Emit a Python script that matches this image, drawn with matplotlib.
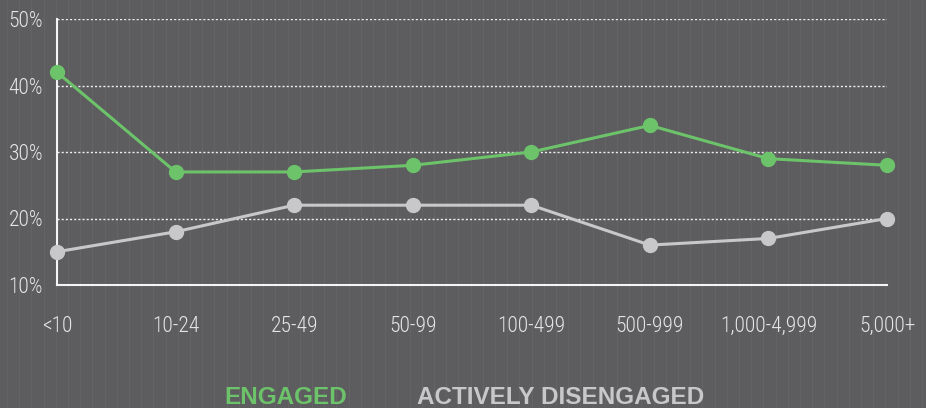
import numpy as np
from matplotlib import pyplot as plt
from matplotlib import font_manager

categories = ["<10", "10-24", "25-49", "50-99", "100-499", "500-999", "1,000-4,999", "5,000+"]
engaged = [42, 27, 27, 28, 30, 34, 29, 28]
disengaged = [15, 18, 22, 22, 22, 16, 17, 20]
y_ticks = [10, 20, 30, 40, 50]

BG = "#5d5d5f"
GREEN = "#6cc36a"
GREY = "#c8c8ca"
TEXT = "#e6e6e6"

# pick a narrow face if one is around
names = {f.name for f in font_manager.fontManager.ttflist}
narrow = [n for n in ["Roboto Condensed", "Liberation Sans Narrow", "Open Sans Condensed",
                      "DejaVu Sans Condensed"] if n in names]

fig = plt.figure(figsize=(9.26, 4.08), dpi=100, facecolor=BG)

# faint vertical texture stripes in the background
bg = fig.add_axes([0, 0, 1, 1], zorder=-1)
bg.set_xlim(0, 926)
bg.set_ylim(0, 408)
bg.axis("off")
for x in np.arange(7, 926, 12.2):
    bg.axvline(x, color="#6a6a6c", lw=0.8, alpha=0.6)

ax = fig.add_axes([57 / 926, 123 / 408, 830 / 926, 266 / 408])
ax.patch.set_alpha(0)
x = np.arange(len(categories))

for y in y_ticks[1:]:
    ax.axhline(y, color="#f0f0f0", lw=1, ls=(0, (1.5, 1.5)), zorder=1)

ax.plot(x, engaged, color=GREEN, lw=2.2, marker="o", ms=10, zorder=3, clip_on=False)
ax.plot(x, disengaged, color=GREY, lw=2.2, marker="o", ms=10, zorder=3, clip_on=False)

ax.set_xlim(0, len(categories) - 1)
ax.set_ylim(10, 50)
ax.set_yticks(y_ticks)
ax.set_yticklabels([f"{v}%" for v in y_ticks])
ax.set_xticks(x)
ax.set_xticklabels(categories)

for side in ["top", "right"]:
    ax.spines[side].set_visible(False)
for side in ["left", "bottom"]:
    ax.spines[side].set_color("#f4f4f4")
    ax.spines[side].set_linewidth(1.5)

ax.tick_params(length=0, colors=TEXT, labelsize=15.5)
ax.tick_params(axis="x", pad=22)
ax.tick_params(axis="y", pad=10)
for lbl in ax.get_xticklabels() + ax.get_yticklabels():
    lbl.set_family(narrow + ["DejaVu Sans"])
    lbl.set_stretch("condensed")
    lbl.set_weight("light")

fig.text(224 / 926, 10 / 408, "ENGAGED", color=GREEN, fontsize=17.5, fontweight="bold",
         family=["Liberation Sans", "DejaVu Sans"], va="center", ha="left")
fig.text(417 / 926, 10 / 408, "ACTIVELY DISENGAGED", color=GREY, fontsize=17.5, fontweight="bold",
         family=["Liberation Sans", "DejaVu Sans"], va="center", ha="left")

fig.savefig("out.png", dpi=100, facecolor=BG)
